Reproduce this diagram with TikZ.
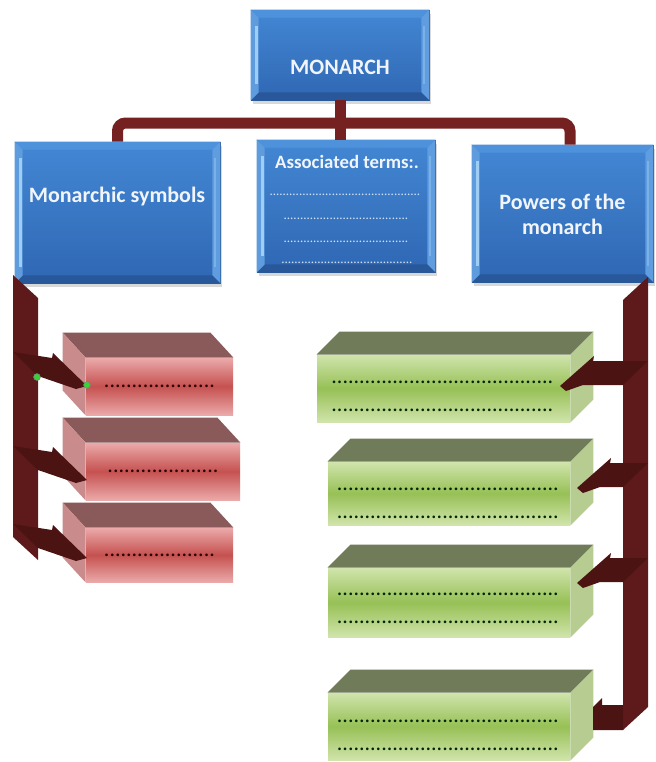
\documentclass[tikz,border=0pt]{standalone}
\usepackage{fontspec}
\setmainfont{Carlito}
\usepackage{tikz}
\usetikzlibrary{calc}
\usetikzlibrary{shadows}

\definecolor{boxtop}{HTML}{4387D4}
\definecolor{boxbottom}{HTML}{2F67B3}
\definecolor{blueedge}{HTML}{2A5A98}
\definecolor{bevellight}{HTML}{9FCDF3}
\definecolor{beveltop}{HTML}{4F92DC}
\definecolor{bevelright}{HTML}{5F9CE0}
\definecolor{bevelbottom}{HTML}{28589A}
\definecolor{barred}{HTML}{5E1A1A}
\definecolor{arrowred}{HTML}{4C1313}
\definecolor{trunkred}{HTML}{762121}
\definecolor{redtop}{HTML}{8A5A5A}
\definecolor{redside}{HTML}{C98B8B}
\definecolor{redlight}{HTML}{EBA9A9}
\definecolor{redmid}{HTML}{C55150}
\definecolor{greentop}{HTML}{6F7B59}
\definecolor{greenside}{HTML}{B6CC90}
\definecolor{greenlight}{HTML}{D0E4AB}
\definecolor{greenmid}{HTML}{97C056}
\definecolor{headwhite}{HTML}{F1F5FA}
\definecolor{termdot}{HTML}{D6E4F4}

\begin{document}
\begin{tikzpicture}[x=0.5pt, y=-0.5pt,
  bluebox/.style={rectangle, draw=blueedge, line width=0.4pt, top color=boxtop, bottom color=boxbottom,
    drop shadow={opacity=0.3, shadow xshift=1pt, shadow yshift=-2pt}},
  redbox/.style={rectangle, inner sep=0pt, top color=redlight, bottom color=redlight, middle color=redmid,
    text=black!85!red, font=\fontsize{11}{13}\selectfont},
  greenbox/.style={rectangle, inner sep=0pt, top color=greenlight, bottom color=greenlight, middle color=greenmid},
  headtext/.style={inner sep=0pt, text=headwhite, font=\bfseries\fontsize{11}{12.5}\selectfont},
  termdots/.style={inner sep=0pt, text=termdot, font=\fontsize{6.5}{7}\selectfont},
  greendots/.style={inner sep=0pt, align=center, text=black!85!green, font=\fontsize{11}{14}\selectfont},
  trunk/.style={draw=trunkred, line width=5.5pt}]
 \fill[white] (0,0) rectangle (655,762);
 \useasboundingbox (0,0) rectangle (655,762);

 % blue boxes
 \node [bluebox, minimum width=89pt, minimum height=45pt] (monarch) at (340,55) {};
 \node [bluebox, minimum width=102.5pt, minimum height=70.5pt] (symbols) at (117.5,212.5) {};
 \node [bluebox, minimum width=89pt, minimum height=66pt] (terms) at (346,206) {};
 \node [bluebox, minimum width=90.5pt, minimum height=68.5pt] (powers) at (562.5,213.5) {};
 \foreach \b in {monarch,symbols,terms,powers} {
  \fill[beveltop] (\b.north west) -- (\b.north east) -- ([shift={(-8,8)}]\b.north east) -- ([shift={(8,8)}]\b.north west) -- cycle;
  \fill[bevelright] (\b.north east) -- (\b.south east) -- ([shift={(-8,-8)}]\b.south east) -- ([shift={(-8,8)}]\b.north east) -- cycle;
  \fill[bevelbottom] (\b.south west) -- (\b.south east) -- ([shift={(-8,-8)}]\b.south east) -- ([shift={(8,-8)}]\b.south west) -- cycle;
  \fill[boxtop!70!bevellight] (\b.north west) -- (\b.south west) -- ([shift={(8,-8)}]\b.south west) -- ([shift={(8,8)}]\b.north west) -- cycle;
  \draw[bevellight, line width=1.2pt] ([shift={(6,16)}]\b.north west) -- ([shift={(6,-16)}]\b.south west);
  \draw[bevellight!60!boxtop, line width=1pt] ([shift={(-5,16)}]\b.north east) -- ([shift={(-5,-16)}]\b.south east);
 }

 % red boxes
 \node [redbox, minimum width=73.5pt, minimum height=28.5pt] (r1) at (159.5,386.5) {....................};
 \node [redbox, minimum width=77pt, minimum height=28.5pt] (r2) at (163,471.5) {....................};
 \node [redbox, minimum width=73.5pt, minimum height=27pt] (r3) at (159.5,555) {....................};
 \foreach \b in {r1,r2,r3} {
  \fill[redtop] (\b.north west) -- (\b.north east) -- ([shift={(-23,-25)}]\b.north east) -- ([shift={(-23,-25)}]\b.north west) -- cycle;
  \fill[redside] (\b.north west) -- (\b.south west) -- ([shift={(-23,-25)}]\b.south west) -- ([shift={(-23,-25)}]\b.north west) -- cycle;
 }

 % green boxes
 \node [greenbox, minimum width=126.5pt, minimum height=33.5pt] (g1) at (443.5,388.5) {};
 \node [greenbox, minimum width=121pt, minimum height=31.5pt] (g2) at (449,493.5) {};
 \node [greenbox, minimum width=121pt, minimum height=34.5pt] (g3) at (449,602.5) {};
 \node [greenbox, minimum width=121pt, minimum height=33.5pt] (g4) at (449,726.5) {};
 \foreach \b in {g1,g2,g3,g4} {
  \fill[greentop] (\b.north west) -- (\b.north east) -- ([shift={(23,-23)}]\b.north east) -- ([shift={(23,-23)}]\b.north west) -- cycle;
  \fill[greenside] (\b.north east) -- (\b.south east) -- ([shift={(23,-23)}]\b.south east) -- ([shift={(23,-23)}]\b.north east) -- cycle;
 }

 % side bars
 \fill[barred] (13,275) -- (38,298) -- (38,560) -- (13,537) -- cycle;
 \fill[barred] (623,300) -- (648,277) -- (648,707) -- (623,730) -- cycle;
 \fill[arrowred] (623,705) -- (602,705) -- (602,698) -- (593,707) -- (593,730) -- (623,730) -- cycle;
 \foreach \ty in {386,480,558}
  \fill[arrowred] (13,\ty-34) -- (52,\ty-28) -- (53,\ty-33) -- (87,\ty) -- (76,\ty+3) -- (38,\ty-10) -- cycle;
 \foreach \tx/\ty in {560/386,577/488,577/583}
  \fill[arrowred] (648,\ty-25) -- (\tx+33,\ty-25) -- (\tx+34,\ty-30) -- (\tx,\ty) -- (\tx+6,\ty+5) -- (\tx+23,\ty-1) -- (623,\ty-1) -- cycle;

 % tree
 \coordinate (fork) at (340,123);
 \draw[trunk] (monarch.south) -- (monarch.south |- terms.north);
 \draw[trunk, rounded corners=4pt] (symbols.north) |- (fork) -| ([xshift=3.75pt]powers.north);

 % texts
 \node [headtext] (monarchtext) at (340,67) {MONARCH};
 \node [headtext] (symbolstext) at (117,197) {Monarchic symbols};
 \node [headtext, font=\bfseries\fontsize{9.4}{11}\selectfont] (termstext) at (347,162) {Associated terms:.};
 \node [termdots] (termline1) at (345,195) {..............................................};
 \node [termdots] (termline2) at (346,219) {......................................};
 \node [termdots] (termline3) at (346,242) {......................................};
 \node [termdots] (termline4) at (347,263) {........................................};
 \node [headtext, align=center] (powerstext) at (562.5,214) {Powers of the\\monarch};
 \node [greendots] (g1text) at (442.5,396) {........................................\\........................................};
 \node [greendots] (g2text) at (448,503) {........................................\\........................................};
 \node [greendots] (g3text) at (448,608.5) {........................................\\........................................};
 \node [greendots] (g4text) at (448,735) {........................................\\........................................};

 % handles
 \filldraw[fill=green!80!black!80, draw=black!50, line width=0.3pt] (37,377) circle (1.7pt);
 \filldraw[fill=green!80!black!80, draw=black!50, line width=0.3pt] (87,385) circle (1.7pt);
\end{tikzpicture}
\end{document}
